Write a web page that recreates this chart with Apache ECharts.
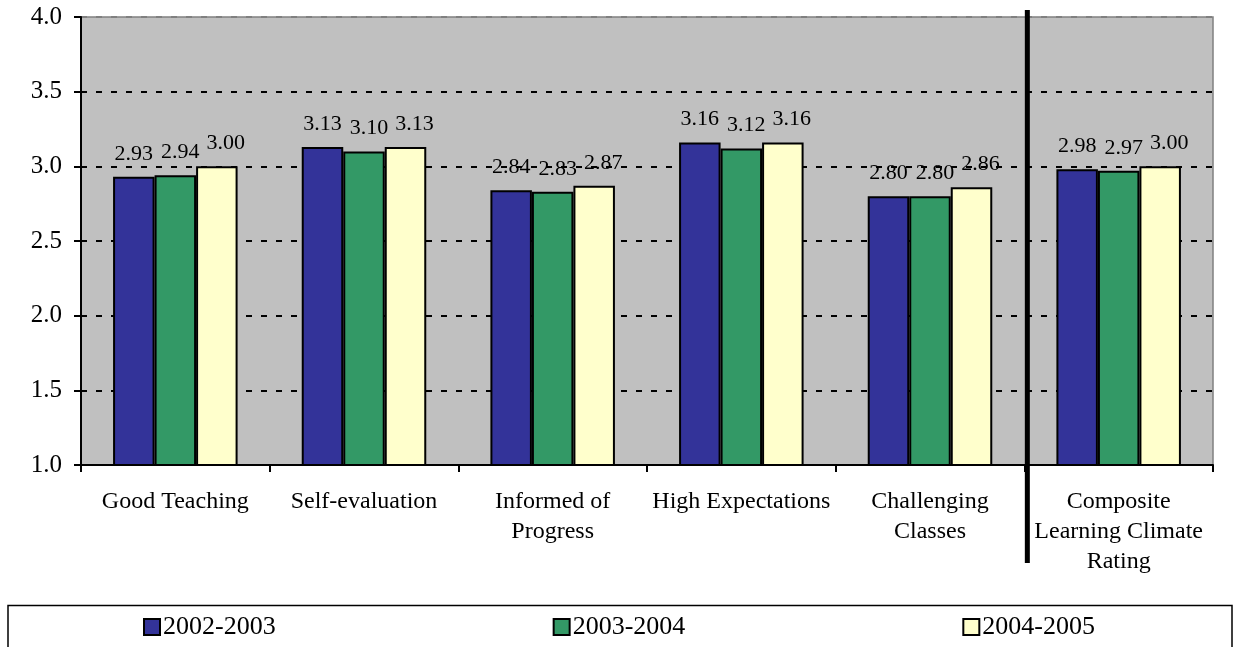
<!DOCTYPE html>
<html>
<head>
<meta charset="utf-8">
<script src="https://cdn.jsdelivr.net/npm/echarts@6/dist/echarts.min.js"></script>
<style>
html,body{margin:0;padding:0;background:#fff;}
#c{width:1233px;height:647px;}
</style>
</head>
<body>
<div id="c"></div>
<script>
const categories = ['Good Teaching', 'Self-evaluation', 'Informed of\nProgress', 'High Expectations', 'Challenging\nClasses', 'Composite\nLearning Climate\nRating'];
const seriesNames = ['2002-2003', '2003-2004', '2004-2005'];
const values2002 = [2.93, 3.13, 2.84, 3.16, 2.80, 2.98];
const values2003 = [2.94, 3.10, 2.83, 3.12, 2.80, 2.97];
const values2004 = [3.00, 3.13, 2.87, 3.16, 2.86, 3.00];
const yTicks = [1.0, 1.5, 2.0, 2.5, 3.0, 3.5, 4.0];

const FONT = '"Liberation Serif", "Times New Roman", serif';
const colors = ['#333399', '#339966', '#FFFFCC'];
const allValues = [values2002, values2003, values2004];
const labelOffsets = [[0, 0], [5, 0], [9, 0]];

const chart = echarts.init(document.getElementById('c'), null, {renderer: 'canvas'});

const series = seriesNames.map((name, i) => ({
  name: name,
  type: 'bar',
  data: allValues[i],
  barGap: '0%',
  barCategoryGap: '34%',
  itemStyle: {color: colors[i], borderColor: '#000', borderWidth: 2},
  label: {
    show: true,
    position: 'top',
    distance: 12,
    offset: labelOffsets[i],
    color: '#000',
    fontFamily: FONT,
    fontSize: 22,
    formatter: p => p.value.toFixed(2)
  },
  emphasis: {disabled: true}
}));

const option = {
  animation: false,
  backgroundColor: '#fff',
  textStyle: {fontFamily: FONT},
  grid: {
    left: 81, right: 20, top: 17, bottom: 182,
    containLabel: false,
    show: true,
    backgroundColor: '#C0C0C0',
    borderColor: '#808080',
    borderWidth: 1.5
  },
  legend: {
    data: seriesNames,
    left: 143,
    top: 614,
    padding: 0,
    itemWidth: 16,
    itemHeight: 16,
    itemGap: 277,
    icon: 'rect',
    itemStyle: {borderColor: '#000', borderWidth: 2},
    textStyle: {fontFamily: FONT, fontSize: 26, color: '#000', padding: [0, 0, 0, -2]}
  },
  xAxis: {
    type: 'category',
    data: categories,
    axisLine: {show: true, lineStyle: {color: '#000', width: 2}},
    axisTick: {show: true, length: 7, lineStyle: {color: '#000', width: 2}},
    axisLabel: {
      interval: 0,
      margin: 22,
      color: '#000',
      fontFamily: FONT,
      fontSize: 24,
      lineHeight: 30
    },
    splitLine: {show: false}
  },
  yAxis: {
    type: 'value',
    min: 1,
    max: 4,
    interval: 0.5,
    axisLine: {show: true, lineStyle: {color: '#000', width: 2}},
    axisTick: {show: true, length: 7, lineStyle: {color: '#000', width: 2}},
    axisLabel: {
      margin: 19,
      color: '#000',
      fontFamily: FONT,
      fontSize: 25,
      formatter: v => yTicks.includes(v) ? v.toFixed(1) : ''
    },
    splitLine: {
      show: true,
      lineStyle: {
        color: ['#000', '#000', '#000', '#000', '#000', '#000', '#808080'],
        width: 2,
        type: [6, 9]
      }
    }
  },
  series: series
};

chart.setOption(option);

// Separator line between the subscales and the composite, plus legend frame
const bandX = chart.convertToPixel({xAxisIndex: 0}, categories[4]);
const nextX = chart.convertToPixel({xAxisIndex: 0}, categories[5]);
const sepX = (bandX + nextX) / 2 + 3;
chart.setOption({
  graphic: [
    {
      type: 'line',
      shape: {x1: sepX, y1: 10, x2: sepX, y2: 563},
      style: {stroke: '#000', lineWidth: 5},
      z: 100
    },
    {
      type: 'rect',
      shape: {x: 8, y: 605.5, width: 1224, height: 60},
      style: {fill: 'none', stroke: '#000', lineWidth: 1.5},
      z: 100
    }
  ]
});
</script>
</body>
</html>
